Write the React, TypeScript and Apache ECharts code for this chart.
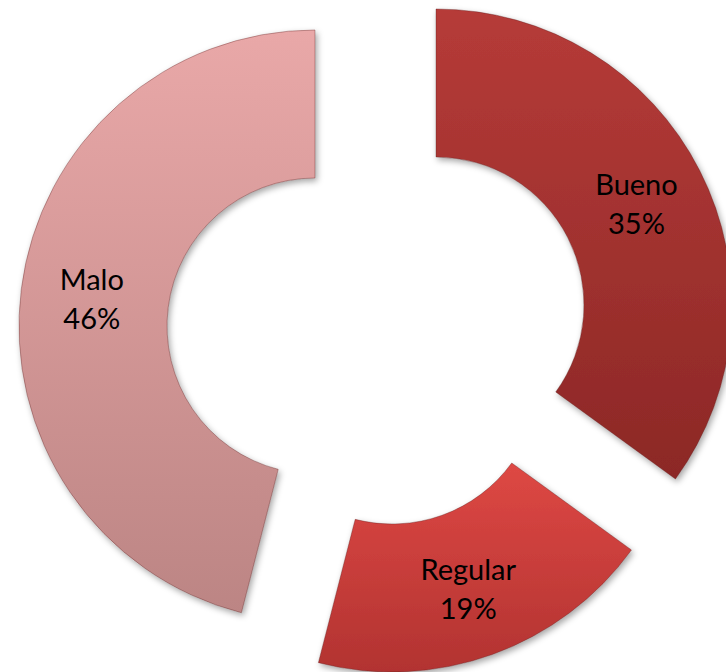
import React, { useEffect, useRef } from "react";
import * as echarts from "echarts";

const categories = ["Bueno", "Regular", "Malo"];
const values = [35, 19, 46];
const topColors = ["#b63b38", "#de4844", "#e9a8a8"];
const bottomColors = ["#8c2826", "#b23331", "#bc8584"];
const centers: [number, number][] = [
  [436, 305],
  [392, 376],
  [315, 326],
];
const labelPads: number[][] = [
  [12, 0, 0, 0],
  [0, 0, 0, 0],
  [20, 0, 0, 0],
];

export default function App() {
  const ref = useRef<HTMLDivElement>(null);
  useEffect(() => {
    if (!ref.current) return;
    const chart = echarts.init(ref.current, null, { renderer: "svg" });
    const series = categories.map((_, k) => ({
      type: "pie",
      silent: true,
      center: centers[k],
      radius: [148, 296],
      startAngle: 90,
      clockwise: true,
      avoidLabelOverlap: false,
      labelLine: { show: false },
      data: categories.map((name, i) => {
        if (i !== k) {
          return {
            name,
            value: values[i],
            itemStyle: { color: "rgba(0,0,0,0)", borderWidth: 0, shadowBlur: 0 },
            label: { show: false },
          };
        }
        return {
          name,
          value: values[i],
          itemStyle: {
            color: new echarts.graphic.LinearGradient(0, 0, 0, 1, [
              { offset: 0, color: topColors[i] },
              { offset: 1, color: bottomColors[i] },
            ]),
            borderWidth: 1,
            borderColor: "rgba(90,30,30,0.35)",
            shadowBlur: 6,
            shadowColor: "rgba(0,0,0,0.35)",
            shadowOffsetX: 2,
            shadowOffsetY: 3,
          },
          label: {
            show: true,
            position: "inside",
            formatter: "{b}\n{d}%",
            color: "#000",
            fontFamily: "Lato",
            fontSize: 29,
            lineHeight: 39,
            padding: labelPads[i],
          },
        };
      }),
    }));
    chart.setOption({
      animation: false,
      backgroundColor: "#ffffff",
      series,
    });
    return () => chart.dispose();
  }, []);
  return (
    <div
      ref={ref}
      style={{ position: "fixed", left: 0, top: 0, width: 726, height: 672 }}
    />
  );
}
